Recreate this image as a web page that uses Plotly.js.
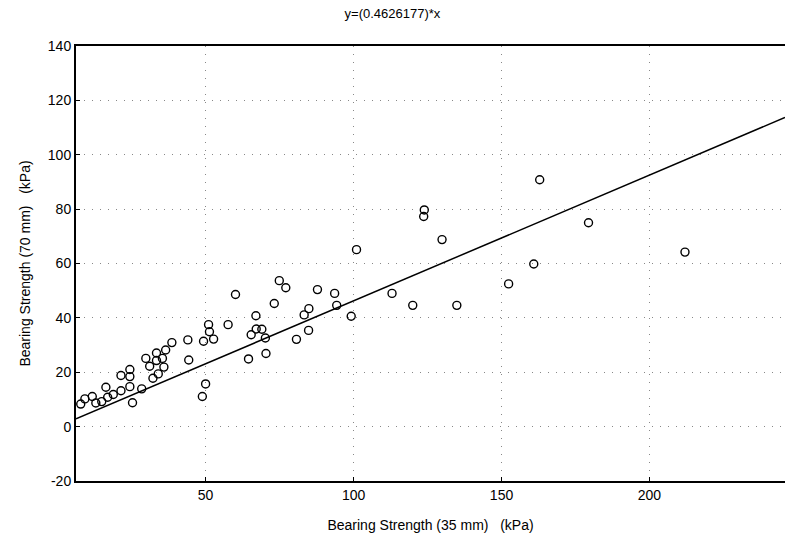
<!DOCTYPE html>
<html>
<head>
<meta charset="utf-8">
<script src="https://cdn.plot.ly/plotly-3.0.1.min.js"></script>
<style>html,body{margin:0;padding:0;background:#fff;}#chart{width:785px;height:542px;}</style>
</head>
<body>
<div id="chart"></div>
<script>
// Bearing strength data (kPa)
const strength35 = [7.8, 9.2, 11.7, 12.9, 14.9, 16.3, 16.9, 18.8, 21.4, 21.4, 24.4, 24.4, 24.4, 25.3, 28.4,
  29.8, 31.1, 32.2, 33.4, 33.4, 34.0, 35.4, 35.9, 36.5, 38.6, 44.0, 44.3, 48.9, 50.0, 49.3, 51.0, 51.3, 52.7,
  57.6, 60.1, 64.5, 65.4, 67.0, 67.1, 69.0, 70.2, 70.4, 73.2, 74.9, 77.1, 80.7, 83.3, 84.9, 84.8, 87.8, 93.6,
  94.3, 99.2, 101.0, 113.0, 120.0, 123.9, 123.7, 129.9, 134.9, 152.4, 160.9, 162.9, 179.4, 212.0];
const strength70 = [8.3, 10.2, 11.1, 8.7, 9.2, 14.5, 10.8, 11.8, 18.8, 13.2, 21.0, 18.4, 14.7, 8.8, 13.9,
  25.1, 22.2, 17.8, 27.1, 24.3, 19.4, 25.1, 21.9, 28.2, 30.9, 31.9, 24.5, 11.1, 15.7, 31.4, 37.5, 34.9, 32.2,
  37.5, 48.6, 24.9, 33.8, 40.8, 35.9, 35.8, 32.6, 26.9, 45.3, 53.7, 51.1, 32.1, 41.1, 43.4, 35.4, 50.4, 49.0,
  44.6, 40.6, 65.1, 49.0, 44.6, 79.7, 77.3, 68.8, 44.6, 52.5, 59.8, 90.8, 75.0, 64.2];
const slope = 0.4626177;
const xRange = [6.2, 245.8];
const yRange = [-20, 140];
const xTicks = [50, 100, 150, 200];
const yTicks = [-20, 0, 20, 40, 60, 80, 100, 120, 140];

const fitX = xRange.slice();
const fitY = fitX.map(v => slope * v);

const font = {family: 'Liberation Sans, Arial, sans-serif', color: '#000'};

const traces = [
  {x: fitX, y: fitY, mode: 'lines', type: 'scatter', line: {color: '#000', width: 1.5}, hoverinfo: 'skip'},
  {x: strength35, y: strength70, mode: 'markers', type: 'scatter',
   marker: {symbol: 'circle-open', size: 8, color: '#000', line: {width: 1.4, color: '#000'}}}
];

const layout = {
  width: 785, height: 542,
  margin: {l: 76, r: 0, t: 46, b: 61},
  paper_bgcolor: '#fff', plot_bgcolor: '#fff',
  showlegend: false,
  font: Object.assign({size: 14}, font),
  title: {text: 'y=(0.4626177)*x', x: 0.5, xanchor: 'center', y: 0.983, yanchor: 'top', font: Object.assign({size: 13}, font)},
  xaxis: {
    range: xRange, tickvals: xTicks, ticktext: xTicks.map(String),
    showline: true, linecolor: '#000', linewidth: 2, mirror: true,
    showgrid: true, gridcolor: '#888', griddash: '1px,7px', gridwidth: 1,
    zeroline: false, ticks: 'inside', ticklen: 4, tickcolor: '#000',
    tickfont: Object.assign({size: 14}, font),
    title: {text: 'Bearing Strength (35 mm)   (kPa)', standoff: 18, font: Object.assign({size: 14}, font)}
  },
  yaxis: {
    range: yRange, tickvals: yTicks, ticktext: yTicks.map(String),
    showline: true, linecolor: '#000', linewidth: 2, mirror: true,
    showgrid: true, gridcolor: '#888', griddash: '1px,7px', gridwidth: 1,
    zeroline: false, ticks: 'inside', ticklen: 4, tickcolor: '#000',
    tickfont: Object.assign({size: 14}, font),
    title: {text: 'Bearing Strength (70 mm)   (kPa)', standoff: 14, font: Object.assign({size: 14}, font)}
  }
};

Plotly.newPlot('chart', traces, layout, {displayModeBar: false, staticPlot: true});
</script>
</body>
</html>
